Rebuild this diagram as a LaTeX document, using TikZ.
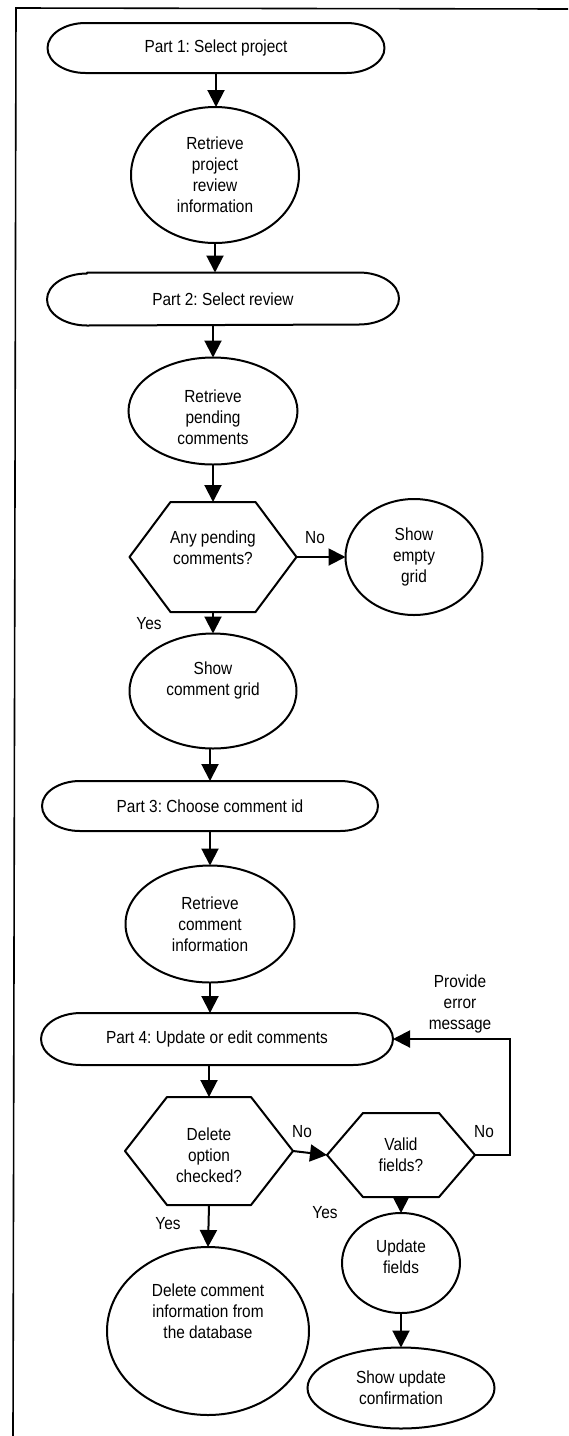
\documentclass[tikz,border=0pt]{standalone}
\usepackage{fontspec}
\setmainfont{Liberation Sans}[FakeStretch=0.88]
\usetikzlibrary{arrows.meta,shapes.geometric,calc}
\frenchspacing
\tikzset{
  base/.style={inner sep=0pt, outer sep=0pt, font=\fontsize{17.5}{21}\selectfont\frenchspacing, align=center},
  term/.style={base, rectangle},
  ell/.style={base, ellipse, draw, line width=2pt},
  hexn/.style={base, rectangle},
  lab/.style={base},
  arr/.style={line width=2pt, -{Triangle[length=17pt,width=17pt]}},
  shapeline/.style={line width=2pt, line join=round}
}
\newcommand\termdraw[2]{%
  \draw[shapeline] ([xshift=#2]#1.north west) -- ([xshift=-#2]#1.north east)
    arc[start angle=90, end angle=-90, x radius=#2, y radius=0.5*\pgfkeysvalueof{/myh}]
    -- ([xshift=#2]#1.south west)
    arc[start angle=270, end angle=90, x radius=#2, y radius=0.5*\pgfkeysvalueof{/myh}] -- cycle;}
\newcommand\hexdraw[2]{%
  \draw[shapeline] (#1.west) -- ([xshift=#2]#1.north west) -- ([xshift=-#2]#1.north east)
    -- (#1.east) -- ([xshift=-#2]#1.south east) -- ([xshift=#2]#1.south west) -- cycle;}
\pgfkeys{/myh/.initial=50pt}
\begin{document}
\begin{tikzpicture}[x=1pt,y=-1pt]
\useasboundingbox (0,0) rectangle (568,1436);
\draw[line width=1.6pt] (568,9) -- (16,8) -- (13,1436);

% Part 1
\node[term, minimum width=337pt, minimum height=50pt] (p1) at (216,48) {Part 1: Select project};
\pgfkeys{/myh=50pt}\termdraw{p1}{38pt}
\node[ell, minimum width=168pt, minimum height=136pt] (r1) at (215,175) {Retrieve\\project\\review\\information};
% Part 2
\node[term, minimum width=352pt, minimum height=53pt] (p2) at (223,299) {Part 2: Select review};
\pgfkeys{/myh=52pt}\termdraw{p2}{40pt}
\node[ell, minimum width=169pt, minimum height=107pt,
      label={[base,yshift=-6pt]center:{Retrieve\\pending\\comments}}] (r2) at (213,411) {};
\node[hexn, minimum width=167pt, minimum height=110pt,
      label={[base,yshift=9pt]center:{Any pending\\comments?}}] (h1) at (213,557) {};
\hexdraw{h1}{41pt}
\node[ell, minimum width=137pt, minimum height=116pt] (e1) at (414,557) {Show\\empty\\grid};
\node[ell, minimum width=167pt, minimum height=115pt,
      label={[base,yshift=11pt]center:{Show\\comment grid}}] (g1) at (213,691) {};
% Part 3
\node[term, minimum width=336pt, minimum height=50pt] (p3) at (210,806) {Part 3: Choose comment id};
\pgfkeys{/myh=50pt}\termdraw{p3}{38pt}
\node[ell, minimum width=169pt, minimum height=117pt] (r3) at (210,924) {Retrieve\\comment\\information};
% Part 4
\node[term, minimum width=352pt, minimum height=52pt] (p4) at (217,1039) {Part 4: Update or edit comments};
\pgfkeys{/myh=52pt}\termdraw{p4}{40pt}
\node[hexn, minimum width=168pt, minimum height=108pt,
      label={[base,yshift=-4pt]center:{Delete\\option\\checked?}}] (h2) at (209,1151) {};
\hexdraw{h2}{42pt}
\node[hexn, minimum width=148pt, minimum height=84pt] (h3) at (401,1155) {Valid\\fields?};
\hexdraw{h3}{36pt}
\node[ell, minimum width=202pt, minimum height=168pt,
      label={[base,yshift=20pt]center:{Delete comment\\information from\\the database}}] (d) at (208,1331) {};
\node[ell, minimum width=118pt, minimum height=100pt,
      label={[base,yshift=6pt]center:{Update\\fields}}] (u) at (401,1263) {};
\node[ell, minimum width=187pt, minimum height=81pt] (s) at (401,1388) {Show update\\confirmation};

% labels
\node[lab] (no1) at (315,538) {No};
\node[lab] (yes1) at (149,624) {Yes};
\node[lab] (no2) at (302,1132) {No};
\node[lab] (no3) at (484,1132) {No};
\node[lab] (yes2) at (168,1224) {Yes};
\node[lab] (yes3) at (325,1213) {Yes};
\node[lab] (err) at (460,1004) {Provide\\error\\message};

% connectors
\draw[arr] (p1.south) -- (p1.south |- r1.north);
\draw[arr] (r1.south) -- (r1.south |- p2.north);
\draw[arr] (r2.north |- p2.south) -- (r2.north);
\draw[arr] (r2.south) -- (h1.north);
\draw[arr] (h1.east) -- (e1.west);
\draw[arr] (h1.south) -- (g1.north);
\draw[arr] (p3.north |- g1.south) -- (p3.north);
\draw[arr] (p3.south) -- (r3.north);
\draw[arr] (r3.south) -- (r3.south |- p4.north);
\draw[arr] (h2.north |- p4.south) -- (h2.north);
\draw[arr] (h2.east) -- (h3.west);
\draw[arr] (h2.south) -- (d.north);
\draw[arr] (h3.south) -- (u.north);
\draw[arr] (u.south) -- (s.north);
\draw[arr] (h3.east) -- ++(35,0) |- (p4.east);
\end{tikzpicture}
\end{document}
